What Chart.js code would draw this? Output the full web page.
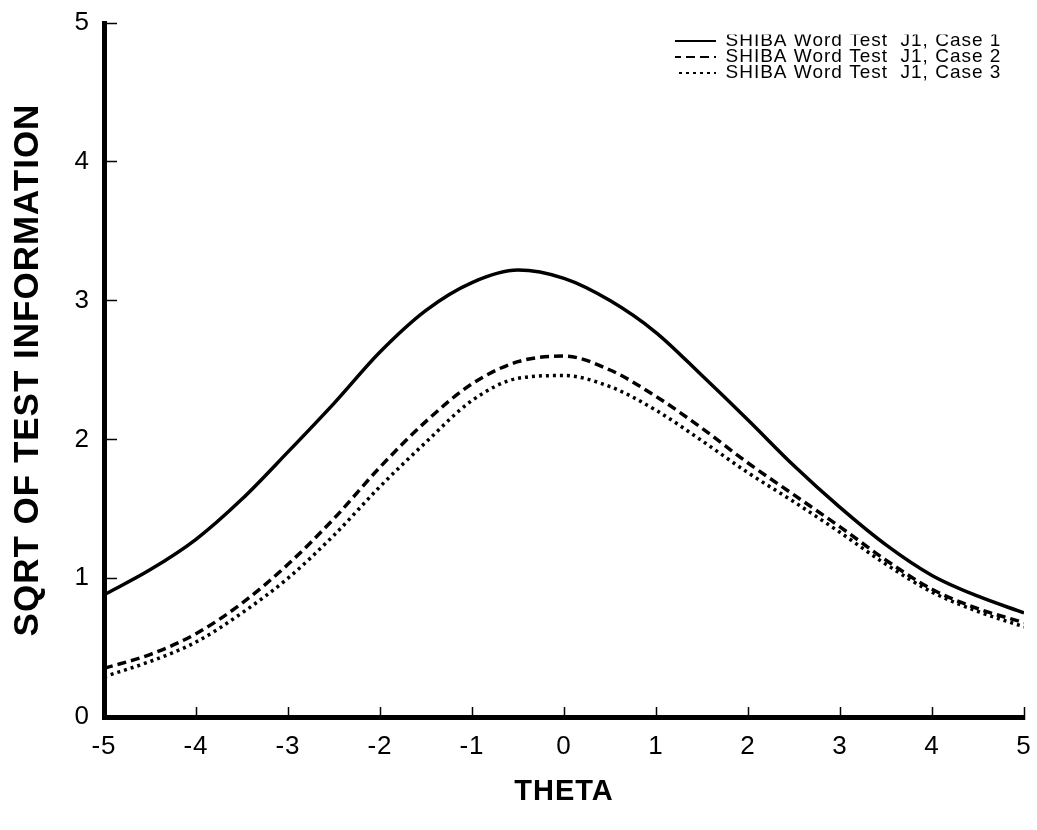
<!DOCTYPE html>
<html>
<head>
<meta charset="utf-8">
<script src="https://cdn.jsdelivr.net/npm/chart.js@4/dist/chart.umd.min.js"></script>
<style>
  html, body { margin: 0; padding: 0; background: #fff; }
  #wrap { width: 1037px; height: 830px; }
</style>
</head>
<body>
<div id="wrap"><canvas id="infoChart" width="1037" height="830"></canvas></div>
<script>
// theta values (every half unit)
var thetaValues = [-5, -4.5, -4, -3.5, -3, -2.5, -2, -1.5, -1, -0.5, 0, 0.5, 1, 1.5, 2, 2.5, 3, 3.5, 4, 4.5, 5];

// sqrt of test information for each case
var case1 = [0.88, 1.06, 1.28, 1.57, 1.91, 2.26, 2.63, 2.93, 3.13, 3.22, 3.16, 3.00, 2.77, 2.46, 2.14, 1.81, 1.51, 1.24, 1.02, 0.87, 0.75];
var case2 = [0.35, 0.45, 0.60, 0.82, 1.10, 1.43, 1.80, 2.13, 2.40, 2.56, 2.60, 2.50, 2.31, 2.08, 1.83, 1.60, 1.37, 1.13, 0.92, 0.78, 0.68];
var case3 = [0.29, 0.40, 0.54, 0.75, 1.00, 1.31, 1.66, 1.98, 2.28, 2.44, 2.46, 2.38, 2.21, 1.99, 1.76, 1.55, 1.33, 1.10, 0.90, 0.76, 0.65];

var seriesNames = ["SHIBA Word Test  J1, Case 1", "SHIBA Word Test  J1, Case 2", "SHIBA Word Test  J1, Case 3"];
var xTicks = [-5, -4, -3, -2, -1, 0, 1, 2, 3, 4, 5];
var yTicks = [0, 1, 2, 3, 4, 5];

function toPoints(values) {
  return thetaValues.map(function (t, i) {
    return { x: t, y: values[i] };
  });
}

Chart.defaults.font.family = "'Liberation Sans', Arial, Helvetica, sans-serif";
Chart.defaults.color = "#000";

// wider text spacing and legend placed inside the plot, top right
var layoutTweaks = {
  id: "layoutTweaks",
  beforeLayout: function (chart) {
    chart.ctx.letterSpacing = "1px";
  },
  beforeDraw: function (chart) {
    chart.ctx.letterSpacing = "1px";
  },
  afterLayout: function (chart) {
    var lg = chart.legend;
    if (!lg) return;
    lg.left = 675;
    lg.top = 34.5;
    lg.right = lg.left + lg.width + 40;
    lg.bottom = lg.top + lg.height;
  },
};

var ctx = document.getElementById("infoChart").getContext("2d");

var infoChart = new Chart(ctx, {
  type: "line",
  data: {
    datasets: [
      {
        label: seriesNames[0],
        data: toPoints(case1),
        borderColor: "#000",
        backgroundColor: "#000",
        borderWidth: 3.5,
      },
      {
        label: seriesNames[1],
        data: toPoints(case2),
        borderColor: "#000",
        backgroundColor: "#000",
        borderWidth: 3.5,
        borderDash: [9, 5],
      },
      {
        label: seriesNames[2],
        data: toPoints(case3),
        borderColor: "#000",
        backgroundColor: "#000",
        borderWidth: 3.5,
        borderDash: [3, 4],
      },
    ],
  },
  options: {
    responsive: false,
    animation: false,
    devicePixelRatio: 1,
    layout: {
      padding: { top: 23, right: 13, left: 0, bottom: 0 },
    },
    elements: {
      point: { radius: 0 },
      line: { cubicInterpolationMode: "monotone", fill: false },
    },
    plugins: {
      tooltip: { enabled: false },
      legend: {
        position: "chartArea",
        align: "start",
        labels: {
          usePointStyle: true,
          pointStyle: "line",
          pointStyleWidth: 44,
          padding: -3,
          color: "#000",
          font: { size: 19 },
          generateLabels: function (chart) {
            var items = Chart.defaults.plugins.legend.labels.generateLabels(chart);
            items.forEach(function (item) {
              var ds = chart.data.datasets[item.datasetIndex];
              item.lineDash = ds.borderDash || [];
              item.lineWidth = 2;
              item.strokeStyle = "#000";
            });
            return items;
          },
        },
      },
    },
    scales: {
      x: {
        type: "linear",
        min: -5,
        max: 5,
        afterBuildTicks: function (scale) {
          scale.ticks = xTicks.map(function (v) { return { value: v }; });
        },
        afterFit: function (scale) {
          scale.height = 113;
          scale.paddingLeft = 0;
          scale.paddingRight = 0;
        },
        border: { display: true, width: 5, color: "#000" },
        grid: {
          display: true,
          drawOnChartArea: false,
          drawTicks: true,
          tickLength: -10,
          tickWidth: 1.5,
          tickColor: "#000",
        },
        ticks: {
          padding: 24,
          maxRotation: 0,
          font: { size: 26 },
          color: "#000",
          callback: function (v) { return String(v); },
        },
        title: {
          display: true,
          text: "THETA",
          color: "#000",
          font: { size: 29, weight: "bold" },
          padding: { top: 0, bottom: 21 },
        },
      },
      y: {
        type: "linear",
        min: 0,
        max: 5,
        afterBuildTicks: function (scale) {
          scale.ticks = yTicks.map(function (v) { return { value: v }; });
        },
        afterFit: function (scale) {
          scale.width = 104;
          scale.paddingTop = 0;
          scale.paddingBottom = 0;
        },
        border: { display: true, width: 5, color: "#000" },
        grid: {
          display: true,
          drawOnChartArea: false,
          drawTicks: true,
          tickLength: -13,
          tickWidth: 1.5,
          tickColor: "#000",
        },
        ticks: {
          padding: 27,
          font: { size: 26 },
          color: "#000",
          callback: function (v) { return String(v); },
        },
        title: {
          display: true,
          text: "SQRT OF TEST INFORMATION",
          color: "#000",
          font: { size: 35, weight: "bold" },
          padding: { top: 7, bottom: 7 },
        },
      },
    },
  },
  plugins: [layoutTweaks],
});
</script>
</body>
</html>
